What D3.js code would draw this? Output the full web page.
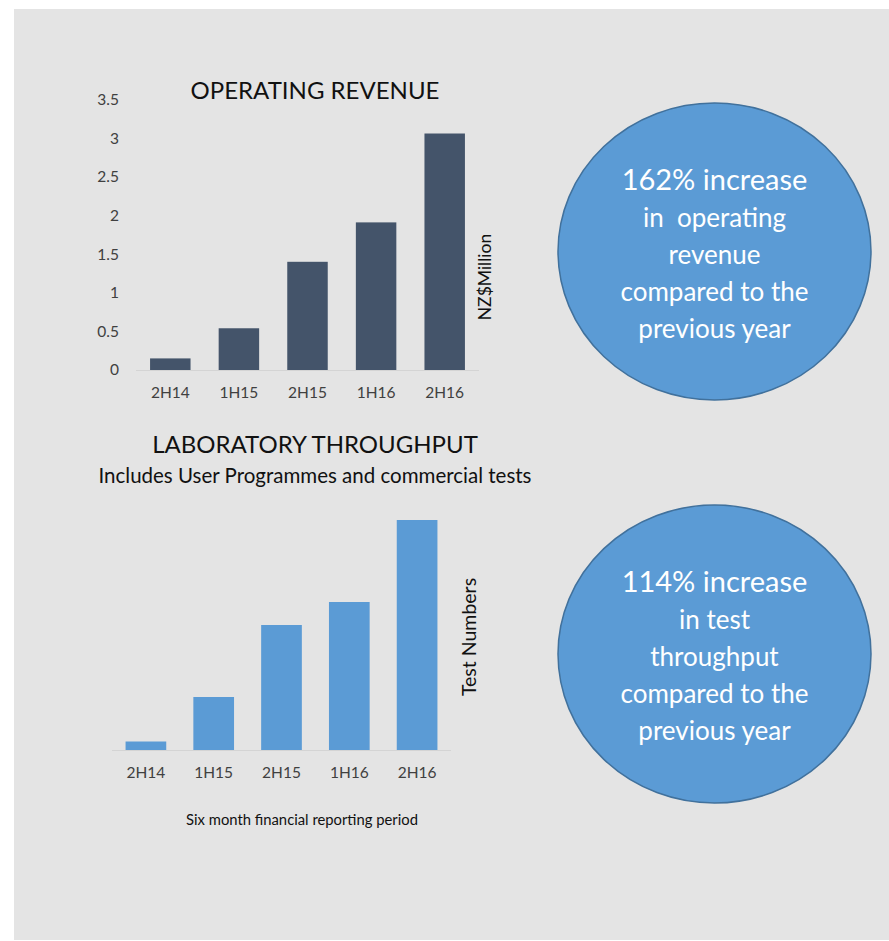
<!DOCTYPE html>
<html>
<head>
<meta charset="utf-8">
<style>
  body { margin: 0; background: #fff; }
  svg text { font-family: Lato, "Open Sans", sans-serif; }
</style>
</head>
<body>
<script src="https://cdn.jsdelivr.net/npm/d3@7"></script>
<script>
var periods = ["2H14", "1H15", "2H15", "1H16", "2H16"];
var revenue = [0.15, 0.54, 1.40, 1.91, 3.06];      // NZ$ million
var tests = [85, 530, 1250, 1480, 2300];           // test numbers (no axis shown)
var revenueTicks = [0, 0.5, 1, 1.5, 2, 2.5, 3, 3.5];
var revenueNote = ["162% increase", "in  operating", "revenue", "compared to the", "previous year"];
var testsNote = ["114% increase", "in test", "throughput", "compared to the", "previous year"];

var width = 889, height = 941;
var svg = d3.select("body").append("svg")
    .attr("width", width)
    .attr("height", height);

svg.append("rect")
    .attr("x", 14).attr("y", 9)
    .attr("width", 875).attr("height", 931)
    .attr("fill", "#e4e4e4");

// ---- top chart: operating revenue
var x1 = d3.scaleBand().domain(periods).range([136, 479]).paddingInner(0.41).paddingOuter(0.205);
var y1 = d3.scaleLinear().domain([0, 3.5]).range([370, 99.5]);

var upper = svg.append("g");

upper.append("g")
    .attr("transform", "translate(119,0)")
    .call(d3.axisLeft(y1).tickValues(revenueTicks).tickSize(0).tickPadding(0).tickFormat(d3.format("")))
    .call(function(g) {
        g.select(".domain").remove();
        g.selectAll("text").attr("font-size", 15.5).attr("fill", "#404040")
            .attr("font-family", "Lato, sans-serif");
    });

upper.append("line")
    .attr("x1", 136).attr("x2", 479)
    .attr("y1", y1(0) + 0.5).attr("y2", y1(0) + 0.5)
    .attr("stroke", "#d4d4d4");

upper.selectAll("rect.bar")
    .data(revenue)
    .enter().append("rect")
    .attr("class", "bar")
    .attr("x", function(d, i) { return x1(periods[i]); })
    .attr("width", x1.bandwidth())
    .attr("y", function(d) { return y1(d); })
    .attr("height", function(d) { return y1(0) - y1(d); })
    .attr("fill", "#44546a");

upper.append("g")
    .attr("transform", "translate(0," + (y1(0) + 23) + ")")
    .call(d3.axisBottom(x1).tickSize(0).tickPadding(0))
    .call(function(g) {
        g.select(".domain").remove();
        g.selectAll("text").attr("font-size", 15.5).attr("fill", "#404040")
            .attr("font-family", "Lato, sans-serif").attr("dy", "0.35em");
    });

upper.append("text")
    .attr("x", 315).attr("y", 99)
    .attr("text-anchor", "middle")
    .attr("font-size", 24)
    .attr("fill", "#111")
    .text("OPERATING REVENUE");

upper.append("text")
    .attr("transform", "translate(485,277) rotate(-90)")
    .attr("text-anchor", "middle")
    .attr("dy", "0.35em")
    .attr("font-size", 17.5)
    .attr("fill", "#111")
    .text("NZ$Million");

// ---- bottom chart: laboratory throughput
var x2 = d3.scaleBand().domain(periods).range([112, 451]).paddingInner(0.4).paddingOuter(0.2);
var y2 = d3.scaleLinear().domain([0, 2300]).range([750, 520]);

var lower = svg.append("g");

lower.append("text")
    .attr("x", 315).attr("y", 453)
    .attr("text-anchor", "middle")
    .attr("font-size", 24)
    .attr("fill", "#111")
    .text("LABORATORY THROUGHPUT");

lower.append("text")
    .attr("x", 315).attr("y", 483)
    .attr("text-anchor", "middle")
    .attr("font-size", 20.5)
    .attr("fill", "#111")
    .text("Includes User Programmes and commercial tests");

lower.append("line")
    .attr("x1", 112).attr("x2", 451)
    .attr("y1", y2(0) + 0.5).attr("y2", y2(0) + 0.5)
    .attr("stroke", "#d4d4d4");

lower.selectAll("rect.bar")
    .data(tests)
    .enter().append("rect")
    .attr("class", "bar")
    .attr("x", function(d, i) { return x2(periods[i]); })
    .attr("width", x2.bandwidth())
    .attr("y", function(d) { return y2(d); })
    .attr("height", function(d) { return y2(0) - y2(d); })
    .attr("fill", "#5b9bd5");

lower.append("g")
    .attr("transform", "translate(0," + (y2(0) + 23) + ")")
    .call(d3.axisBottom(x2).tickSize(0).tickPadding(0))
    .call(function(g) {
        g.select(".domain").remove();
        g.selectAll("text").attr("font-size", 15.5).attr("fill", "#404040")
            .attr("font-family", "Lato, sans-serif").attr("dy", "0.35em");
    });

lower.append("text")
    .attr("transform", "translate(469,637) rotate(-90)")
    .attr("text-anchor", "middle")
    .attr("dy", "0.35em")
    .attr("font-size", 19.5)
    .attr("fill", "#111")
    .text("Test Numbers");

lower.append("text")
    .attr("x", 302).attr("y", 825)
    .attr("text-anchor", "middle")
    .attr("font-size", 14.8)
    .attr("fill", "#111")
    .text("Six month financial reporting period");

// ---- callout circles
function callout(cx, cy, rx, ry, lines, firstBaseline) {
    var g = svg.append("g");
    g.append("ellipse")
        .attr("cx", cx).attr("cy", cy)
        .attr("rx", rx).attr("ry", ry)
        .attr("fill", "#5b9bd5")
        .attr("stroke", "#41719c")
        .attr("stroke-width", 1.5);
    g.selectAll("text")
        .data(lines)
        .enter().append("text")
        .attr("x", cx)
        .attr("y", function(d, i) { return firstBaseline + i * 37; })
        .attr("text-anchor", "middle")
        .attr("fill", "#fff")
        .attr("font-size", function(d, i) { return i === 0 ? 29 : 26; })
        .attr("xml:space", "preserve")
        .text(function(d) { return d; });
}

callout(714.5, 251.5, 156.5, 148.5, revenueNote, 190);
callout(714.5, 654, 156.5, 149, testsNote, 592);
</script>
</body>
</html>
